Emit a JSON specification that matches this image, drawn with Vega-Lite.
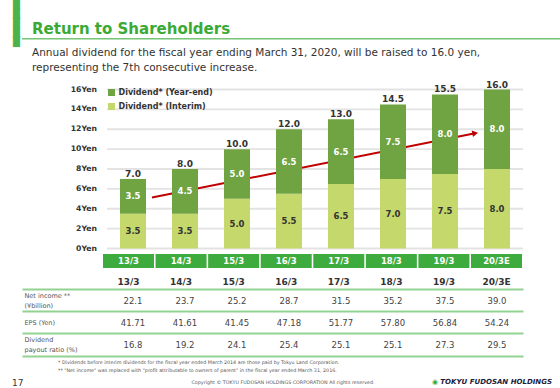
{
  "$schema": "https://vega.github.io/schema/vega-lite/v6.json",
  "padding": {"left": 12, "top": 0, "right": 0, "bottom": 0},
  "background": "white",
  "bounds": "flush",
  "spacing": 5,
  "config": {"view": {"stroke": null}, "font": "DejaVu Sans", "title": {"font": "DejaVu Sans"}},
  "datasets": {
    "div": [
      {"year": "13/3", "type": "Dividend* (Interim)", "value": 3.5},
      {"year": "13/3", "type": "Dividend* (Year-end)", "value": 3.5},
      {"year": "14/3", "type": "Dividend* (Interim)", "value": 3.5},
      {"year": "14/3", "type": "Dividend* (Year-end)", "value": 4.5},
      {"year": "15/3", "type": "Dividend* (Interim)", "value": 5.0},
      {"year": "15/3", "type": "Dividend* (Year-end)", "value": 5.0},
      {"year": "16/3", "type": "Dividend* (Interim)", "value": 5.5},
      {"year": "16/3", "type": "Dividend* (Year-end)", "value": 6.5},
      {"year": "17/3", "type": "Dividend* (Interim)", "value": 6.5},
      {"year": "17/3", "type": "Dividend* (Year-end)", "value": 6.5},
      {"year": "18/3", "type": "Dividend* (Interim)", "value": 7.0},
      {"year": "18/3", "type": "Dividend* (Year-end)", "value": 7.5},
      {"year": "19/3", "type": "Dividend* (Interim)", "value": 7.5},
      {"year": "19/3", "type": "Dividend* (Year-end)", "value": 8.0},
      {"year": "20/3E", "type": "Dividend* (Interim)", "value": 8.0},
      {"year": "20/3E", "type": "Dividend* (Year-end)", "value": 8.0}
    ],
    "tbl": [
      {"year": "13/3", "metric": "Net income ** (¥billion)", "text": "22.1"},
      {"year": "14/3", "metric": "Net income ** (¥billion)", "text": "23.7"},
      {"year": "15/3", "metric": "Net income ** (¥billion)", "text": "25.2"},
      {"year": "16/3", "metric": "Net income ** (¥billion)", "text": "28.7"},
      {"year": "17/3", "metric": "Net income ** (¥billion)", "text": "31.5"},
      {"year": "18/3", "metric": "Net income ** (¥billion)", "text": "35.2"},
      {"year": "19/3", "metric": "Net income ** (¥billion)", "text": "37.5"},
      {"year": "20/3E", "metric": "Net income ** (¥billion)", "text": "39.0"},
      {"year": "13/3", "metric": "EPS (Yen)", "text": "41.71"},
      {"year": "14/3", "metric": "EPS (Yen)", "text": "41.61"},
      {"year": "15/3", "metric": "EPS (Yen)", "text": "41.45"},
      {"year": "16/3", "metric": "EPS (Yen)", "text": "47.18"},
      {"year": "17/3", "metric": "EPS (Yen)", "text": "51.77"},
      {"year": "18/3", "metric": "EPS (Yen)", "text": "57.80"},
      {"year": "19/3", "metric": "EPS (Yen)", "text": "56.84"},
      {"year": "20/3E", "metric": "EPS (Yen)", "text": "54.24"},
      {"year": "13/3", "metric": "Dividend payout ratio (%)", "text": "16.8"},
      {"year": "14/3", "metric": "Dividend payout ratio (%)", "text": "19.2"},
      {"year": "15/3", "metric": "Dividend payout ratio (%)", "text": "24.1"},
      {"year": "16/3", "metric": "Dividend payout ratio (%)", "text": "25.4"},
      {"year": "17/3", "metric": "Dividend payout ratio (%)", "text": "25.1"},
      {"year": "18/3", "metric": "Dividend payout ratio (%)", "text": "25.1"},
      {"year": "19/3", "metric": "Dividend payout ratio (%)", "text": "27.3"},
      {"year": "20/3E", "metric": "Dividend payout ratio (%)", "text": "29.5"}
    ],
    "trend": [{"slot": 0.865, "v": 5.13}, {"slot": 7.08, "v": 11.6}],
    "gridvals": [
      {"tick": 0, "label": "0Yen"}, {"tick": 2, "label": "2Yen"}, {"tick": 4, "label": "4Yen"},
      {"tick": 6, "label": "6Yen"}, {"tick": 8, "label": "8Yen"}, {"tick": 10, "label": "10Yen"},
      {"tick": 12, "label": "12Yen"}, {"tick": 14, "label": "14Yen"}, {"tick": 16, "label": "16Yen"}
    ]
  },
  "vconcat": [
    {
      "width": 538, "height": 1.5,
      "view": {"fill": "#74c474", "stroke": null},
      "title": {"text": "Return to Shareholders", "anchor": "start", "frame": "group", "dx": 10, "offset": -11, "baseline": "alphabetic", "fontSize": 15, "fontWeight": "bold", "color": "#3aaa35"},
      "data": {"values": []},
      "mark": "point"
    },
    {
      "width": 501, "height": 203.5,
      "title": {"text": ["Annual dividend for the fiscal year ending March 31, 2020, will be raised to 16.0 yen,", "representing the 7th consecutive increase."], "anchor": "start", "frame": "group", "dx": 10, "offset": -37, "baseline": "alphabetic", "fontSize": 10.5, "fontWeight": "normal", "color": "#333333", "lineHeight": 15.6},
      "resolve": {"scale": {"x": "independent"}},
      "layer": [
        {
          "data": {"name": "gridvals"},
          "mark": {"type": "rule", "color": "#e3e3e3", "strokeWidth": 1.8},
          "encoding": {
            "y": {"field": "tick", "type": "quantitative", "scale": {"domain": [0, 20.48], "nice": false, "zero": false}, "axis": null},
            "x": {"datum": 0, "type": "quantitative", "scale": {"domain": [0, 8], "range": [85, 501], "nice": false, "zero": false}, "axis": null},
            "x2": {"datum": 8}
          }
        },
        {
          "data": {"name": "gridvals"},
          "mark": {"type": "text", "align": "right", "baseline": "middle", "dx": -10, "fontSize": 7.7, "fontWeight": "bold", "color": "#333333"},
          "encoding": {
            "y": {"field": "tick", "type": "quantitative", "scale": {"domain": [0, 20.48], "nice": false, "zero": false}, "axis": null},
            "x": {"datum": 0, "type": "quantitative", "scale": {"domain": [0, 8], "range": [85, 501], "nice": false, "zero": false}, "axis": null},
            "text": {"field": "label"}
          }
        },
        {
          "data": {"name": "trend"},
          "mark": {"type": "line", "color": "#c00000", "strokeWidth": 2},
          "encoding": {
            "x": {"field": "slot", "type": "quantitative", "scale": {"domain": [0, 8], "range": [85, 501], "nice": false, "zero": false}, "axis": null},
            "y": {"field": "v", "type": "quantitative", "scale": {"domain": [0, 20.48], "nice": false, "zero": false}, "axis": null}
          }
        },
        {
          "data": {"name": "trend"},
          "transform": [{"filter": "datum.slot > 5"}],
          "mark": {"type": "point", "shape": "triangle-right", "size": 45, "filled": true, "color": "#c00000", "opacity": 1, "angle": -11.3},
          "encoding": {
            "x": {"field": "slot", "type": "quantitative", "scale": {"domain": [0, 8], "range": [85, 501], "nice": false, "zero": false}, "axis": null},
            "y": {"field": "v", "type": "quantitative", "scale": {"domain": [0, 20.48], "nice": false, "zero": false}, "axis": null}
          }
        },
        {
          "data": {"name": "div"},
          "mark": {"type": "bar"},
          "encoding": {
            "x": {"field": "year", "type": "nominal", "scale": {"type": "band", "domain": ["13/3", "14/3", "15/3", "16/3", "17/3", "18/3", "19/3", "20/3E"], "range": [85, 501], "paddingInner": 0.5, "paddingOuter": 0.25}, "axis": null},
            "y": {"field": "value", "type": "quantitative", "stack": "zero", "scale": {"domain": [0, 20.48], "nice": false, "zero": false}, "axis": null},
            "order": {"field": "type", "sort": "ascending"},
            "color": {"field": "type", "type": "nominal", "scale": {"domain": ["Dividend* (Year-end)", "Dividend* (Interim)"], "range": ["#70a443", "#c5d86c"]},
                      "legend": {"orient": "none", "legendX": 85.5, "legendY": 50.5, "title": null, "symbolType": "square", "symbolSize": 49, "symbolStrokeWidth": 0, "labelFontSize": 8, "labelFontWeight": "bold", "labelColor": "#333333", "rowPadding": 6, "padding": 0, "labelOffset": 3}}
          }
        },
        {
          "data": {"name": "div"},
          "transform": [
            {"stack": "value", "groupby": ["year"], "sort": [{"field": "type", "order": "ascending"}], "as": ["v0", "v1"]},
            {"fold": ["v0", "v1"], "as": ["edge", "pos"]},
            {"aggregate": [{"op": "mean", "field": "pos", "as": "mid"}], "groupby": ["year", "type", "value"]}
          ],
          "mark": {"type": "text", "fontSize": 8.5, "fontWeight": "bold", "baseline": "middle"},
          "encoding": {
            "x": {"field": "year", "type": "nominal", "scale": {"type": "band", "domain": ["13/3", "14/3", "15/3", "16/3", "17/3", "18/3", "19/3", "20/3E"], "range": [85, 501], "paddingInner": 0.5, "paddingOuter": 0.25}, "axis": null},
            "y": {"field": "mid", "type": "quantitative", "scale": {"domain": [0, 20.48], "nice": false, "zero": false}, "axis": null},
            "text": {"field": "value", "type": "quantitative", "format": ".1f"},
            "color": {"condition": {"test": "datum.type === 'Dividend* (Year-end)'", "value": "white"}, "value": "#333333"}
          }
        },
        {
          "data": {"name": "div"},
          "transform": [{"aggregate": [{"op": "sum", "field": "value", "as": "total"}], "groupby": ["year"]}],
          "mark": {"type": "text", "fontSize": 9, "fontWeight": "bold", "color": "#333333", "baseline": "alphabetic", "dy": -2},
          "encoding": {
            "x": {"field": "year", "type": "nominal", "scale": {"type": "band", "domain": ["13/3", "14/3", "15/3", "16/3", "17/3", "18/3", "19/3", "20/3E"], "range": [85, 501], "paddingInner": 0.5, "paddingOuter": 0.25}, "axis": null},
            "y": {"field": "total", "type": "quantitative", "scale": {"domain": [0, 20.48], "nice": false, "zero": false}, "axis": null},
            "text": {"field": "total", "type": "quantitative", "format": ".1f"}
          }
        }
      ]
    },
    {
      "width": 501, "height": 14,
      "data": {"name": "div"},
      "transform": [{"aggregate": [{"op": "count", "as": "n"}], "groupby": ["year"]}],
      "encoding": {
        "x": {"field": "year", "type": "nominal", "scale": {"type": "band", "domain": ["13/3", "14/3", "15/3", "16/3", "17/3", "18/3", "19/3", "20/3E"], "range": [81, 500], "paddingInner": 0.03, "paddingOuter": 0},
              "axis": {"orient": "bottom", "domain": false, "ticks": false, "tickSize": 0, "labelPadding": 9, "labelFontSize": 9, "labelFontWeight": "bold", "labelColor": "#333333", "labelAngle": 0, "labelBaseline": "top", "title": null}}
      },
      "layer": [
        {"mark": {"type": "bar", "color": "#3dab3d"}},
        {"mark": {"type": "text", "color": "white", "fontSize": 8.5, "fontWeight": "bold", "baseline": "middle"}, "encoding": {"text": {"field": "year"}}}
      ]
    },
    {
      "width": 501, "height": 83,
      "data": {"name": "tbl"},
      "mark": {"type": "text", "fontSize": 8.5, "color": "#444444", "baseline": "middle"},
      "encoding": {
        "x": {"field": "year", "type": "nominal", "scale": {"type": "band", "domain": ["13/3", "14/3", "15/3", "16/3", "17/3", "18/3", "19/3", "20/3E"], "range": [0, 501], "paddingInner": 0, "paddingOuter": 0.817, "align": 1}, "axis": null},
        "y": {"field": "metric", "type": "nominal", "scale": {"type": "band", "domain": ["Net income ** (¥billion)", "EPS (Yen)", "Dividend payout ratio (%)"], "paddingInner": 0, "paddingOuter": 0.386, "align": 1},
              "axis": {"orient": "left", "domain": false, "ticks": false, "tickSize": 0, "grid": true, "gridColor": "#92d292", "gridWidth": 2, "bandPosition": 1, "tickExtra": true, "labelAlign": "left", "labelPadding": -2, "labelFontSize": 6.5, "labelColor": "#555555", "labelLineHeight": 10, "labelBaseline": "middle", "title": null,
                       "labelOffset": {"condition": {"test": "datum.value === 'EPS (Yen)'", "value": 0}, "value": -5},
                       "labelExpr": "datum.value === 'Net income ** (¥billion)' ? ['Net income **', '(¥billion)'] : datum.value === 'Dividend payout ratio (%)' ? ['Dividend', 'payout ratio (%)'] : datum.value"}},
        "text": {"field": "text"}
      }
    },
    {
      "width": 538, "height": 27,
      "data": {"values": []}, "mark": "point",
      "title": {"text": ["\u00a0\u00a0* Dividends before interim dividends for the fiscal year ended March 2014 are those paid by Tokyu Land Corporation.", "** \"Net income\" was replaced with \"profit attributable to owners of parent\" in the fiscal year ended March 31, 2016."], "anchor": "start", "frame": "group", "dx": 36, "offset": -15.3, "baseline": "alphabetic", "fontSize": 4.8, "fontWeight": "normal", "color": "#555555", "lineHeight": 7.5}
    },
    {
      "width": 538, "height": 1,
      "data": {"values": []}, "mark": "point",
      "title": {"text": "17", "anchor": "start", "frame": "group", "dx": -10, "offset": -2, "baseline": "alphabetic", "fontSize": 9, "fontWeight": "normal", "color": "#333333"}
    },
    {
      "width": 538, "height": 1,
      "data": {"values": []}, "mark": "point",
      "title": {"text": "Copyright © TOKYU FUDOSAN HOLDINGS CORPORATION All rights reserved.", "anchor": "middle", "frame": "group", "dx": -8, "offset": 10.2, "baseline": "alphabetic", "fontSize": 4.8, "fontWeight": "normal", "color": "#555555"}
    },
    {
      "width": 538, "height": 1,
      "data": {"values": []}, "mark": "point",
      "title": {"text": "TOKYU FUDOSAN HOLDINGS", "anchor": "end", "frame": "group", "dx": -8, "offset": 14, "baseline": "alphabetic", "fontSize": 7, "fontWeight": "bold", "fontStyle": "italic", "color": "#1c1c3c"}
    },
    {
      "width": 538, "height": 1,
      "data": {"values": []}, "mark": "point",
      "title": {"text": "◉", "anchor": "end", "frame": "group", "dx": -122, "offset": 20, "baseline": "alphabetic", "fontSize": 7, "fontWeight": "bold", "color": "#3aaa35"}
    },
    {
      "width": 538, "height": 1,
      "data": {"values": []}, "mark": "point",
      "title": {"text": ["█", "█", "█", "█", "█"], "anchor": "start", "frame": "group", "dx": -9, "offset": 370, "baseline": "top", "fontSize": 9, "lineHeight": 9.5, "fontWeight": "normal", "color": "#4cb34c"}
    }
  ]
}
